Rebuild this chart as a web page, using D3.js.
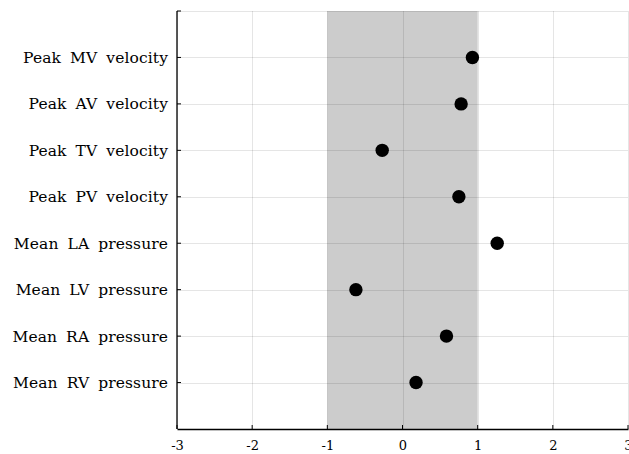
<!DOCTYPE html>
<html>
<head>
<meta charset="utf-8">
<script src="https://cdn.jsdelivr.net/npm/d3@7"></script>
<style>
  body { margin: 0; background: #fff; }
  text { font-family: "DejaVu Serif", "Liberation Serif", serif; fill: #000; }
</style>
</head>
<body>
<div id="chart"></div>
<script>
const categories = [
  'Peak MV velocity', 'Peak AV velocity', 'Peak TV velocity', 'Peak PV velocity',
  'Mean LA pressure', 'Mean LV pressure', 'Mean RA pressure', 'Mean RV pressure'
];
const values = [0.93, 0.78, -0.27, 0.75, 1.26, -0.62, 0.585, 0.18];
const xTicks = [-3, -2, -1, 0, 1, 2, 3];
const band = [-1, 1];

const width = 629, height = 454;
const margin = { top: 11, right: 1, bottom: 25, left: 177 };

const svg = d3.select('#chart').append('svg')
  .attr('width', width)
  .attr('height', height);

const x = d3.scaleLinear().domain([-3, 3]).range([margin.left, width - margin.right]);
const y = d3.scaleLinear().domain([0, categories.length + 1]).range([margin.top, height - margin.bottom]);
const yPos = (d, i) => y(i + 1);

// shaded band
svg.append('rect')
  .attr('x', x(band[0]))
  .attr('y', y(0))
  .attr('width', x(band[1]) - x(band[0]))
  .attr('height', y(categories.length + 1) - y(0))
  .attr('fill', '#cccccc');

// grid
const grid = svg.append('g').attr('stroke', 'rgba(0,0,0,0.1)').attr('stroke-width', 1);
grid.selectAll('.vg').data(xTicks).enter().append('line')
  .attr('x1', d => Math.round(x(d)) + 0.5).attr('x2', d => Math.round(x(d)) + 0.5)
  .attr('y1', y(0)).attr('y2', y(categories.length + 1));
grid.selectAll('.hg').data(categories).enter().append('line')
  .attr('x1', x(-3)).attr('x2', x(3))
  .attr('y1', (d, i) => Math.round(yPos(d, i)) + 0.5)
  .attr('y2', (d, i) => Math.round(yPos(d, i)) + 0.5);
grid.append('line')
  .attr('x1', x(-3)).attr('x2', x(3))
  .attr('y1', Math.round(y(0)) + 0.5).attr('y2', Math.round(y(0)) + 0.5);

// axes
const xAxis = d3.axisBottom(x).tickValues(xTicks).tickSize(0).tickPadding(12)
  .tickFormat(d => String(d).replace('\u2212', '-'));
svg.append('g')
  .attr('transform', `translate(0,${y(categories.length + 1)})`)
  .call(xAxis)
  .call(g => g.select('.domain').attr('stroke', '#000').attr('stroke-width', 1.3))
  .call(g => g.selectAll('text').attr('font-size', 13).style('font-family', '"DejaVu Serif", serif'));
svg.append('g').selectAll('line').data(xTicks).enter().append('line')
  .attr('x1', d => x(d)).attr('x2', d => x(d))
  .attr('y1', y(categories.length + 1)).attr('y2', y(categories.length + 1) - 4)
  .attr('stroke', '#000').attr('stroke-width', 1);

const yAxisG = svg.append('g').attr('transform', `translate(${margin.left},0)`);
yAxisG.append('line')
  .attr('x1', 0).attr('x2', 0)
  .attr('y1', y(0)).attr('y2', y(categories.length + 1))
  .attr('stroke', '#000').attr('stroke-width', 1.3);
yAxisG.selectAll('.tk').data(categories).enter().append('line')
  .attr('x1', 0).attr('x2', 4)
  .attr('y1', yPos).attr('y2', yPos)
  .attr('stroke', '#000');
yAxisG.append('line')
  .attr('x1', 0).attr('x2', 4)
  .attr('y1', y(0)).attr('y2', y(0))
  .attr('stroke', '#000');
yAxisG.selectAll('text').data(categories).enter().append('text')
  .attr('x', -9)
  .attr('y', yPos)
  .attr('dy', '0.35em')
  .attr('text-anchor', 'end')
  .attr('font-size', 15.5)
  .style('word-spacing', '4px')
  .style('letter-spacing', '0.1px')
  .text(d => d);

// points
svg.append('g').selectAll('circle').data(values).enter().append('circle')
  .attr('cx', d => x(d))
  .attr('cy', (d, i) => yPos(d, i))
  .attr('r', 6.7)
  .attr('fill', '#000');
</script>
</body>
</html>
